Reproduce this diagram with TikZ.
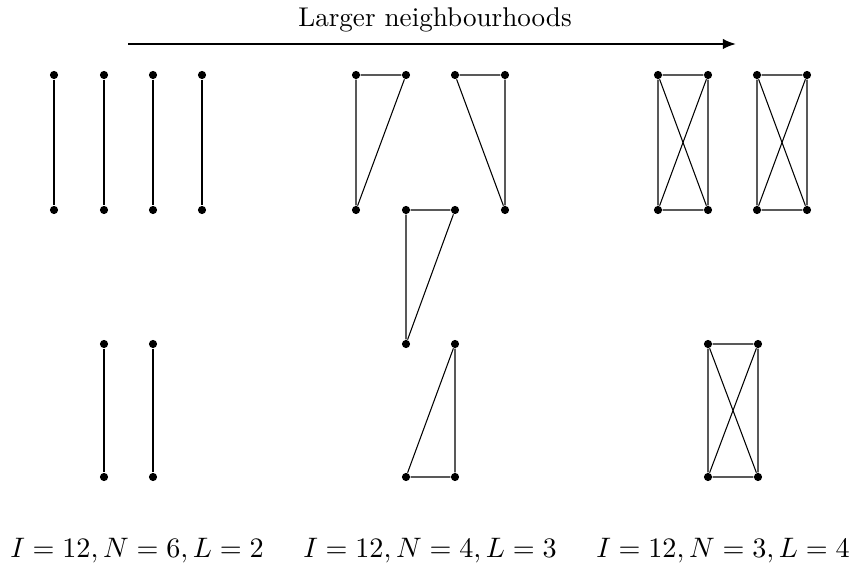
\documentclass[tikz,border=0pt]{standalone}
\usetikzlibrary{arrows.meta}
\begin{document}
\begin{tikzpicture}[x=0.38pt,y=-0.38pt,
  pt/.style={circle,fill=black,inner sep=0pt,minimum size=3.1pt},
  edge/.style={line width=0.4pt},
  bigarrow/.style={line width=0.8pt,-{Latex[length=5pt,width=4pt]}},
  lbl/.style={inner sep=0pt,anchor=base}]
\useasboundingbox (0,0) rectangle (853,570);
% left group
\foreach \i/\x in {1/54,2/104,3/153,4/202}{
  \node[pt] (la\i) at (\x,75) {};
  \node[pt] (lb\i) at (\x,210) {};
  \draw[edge] (la\i) -- (lb\i);
}
\foreach \i/\x in {1/104,2/153}{
  \node[pt] (lc\i) at (\x,344) {};
  \node[pt] (ld\i) at (\x,477) {};
  \draw[edge] (lc\i) -- (ld\i);
}
% middle triangles
\node[pt] (t1a) at (356,75) {};
\node[pt] (t1b) at (406,75) {};
\node[pt] (t1c) at (356,210) {};
\draw[edge] (t1c) -- (t1a) -- (t1b) -- (t1c);
\node[pt] (t2a) at (455,75) {};
\node[pt] (t2b) at (505,75) {};
\node[pt] (t2c) at (505,210) {};
\draw[edge] (t2c) -- (t2b) -- (t2a) -- (t2c);
\node[pt] (t3a) at (406,210) {};
\node[pt] (t3b) at (455,210) {};
\node[pt] (t3c) at (406,344) {};
\draw[edge] (t3c) -- (t3a) -- (t3b) -- (t3c);
\node[pt] (t4a) at (455,344) {};
\node[pt] (t4b) at (406,477) {};
\node[pt] (t4c) at (455,477) {};
\draw[edge] (t4a) -- (t4c) -- (t4b) -- (t4a);
% right K4s
\foreach \k/\x/\y in {1/658/75,2/757/75,3/708/344}{
  \pgfmathsetmacro{\xr}{\x+50}
  \pgfmathsetmacro{\yb}{\y==75 ? 210 : 477}
  \node[pt] (k\k a) at (\x,\y) {};
  \node[pt] (k\k b) at (\xr,\y) {};
  \node[pt] (k\k c) at (\x,\yb) {};
  \node[pt] (k\k d) at (\xr,\yb) {};
  \draw[edge] (k\k a) -- (k\k b) -- (k\k d) -- (k\k c) -- (k\k a) -- (k\k d);
  \draw[edge] (k\k b) -- (k\k c);
}
% arrow
\coordinate (as) at (128,44);
\coordinate (ae) at (736,44);
\draw[bigarrow] (as) -- (ae);
\node[lbl,scale=1.03] (title) at (435,27) {Larger neighbourhoods};
% labels
\node[lbl,scale=1.07] (l1) at (137,557) {$I=12, N=6, L=2$};
\node[lbl,scale=1.07] (l2) at (430,557) {$I=12, N=4, L=3$};
\node[lbl,scale=1.07] (l3) at (723,557) {$I=12, N=3, L=4$};
\end{tikzpicture}
\end{document}
